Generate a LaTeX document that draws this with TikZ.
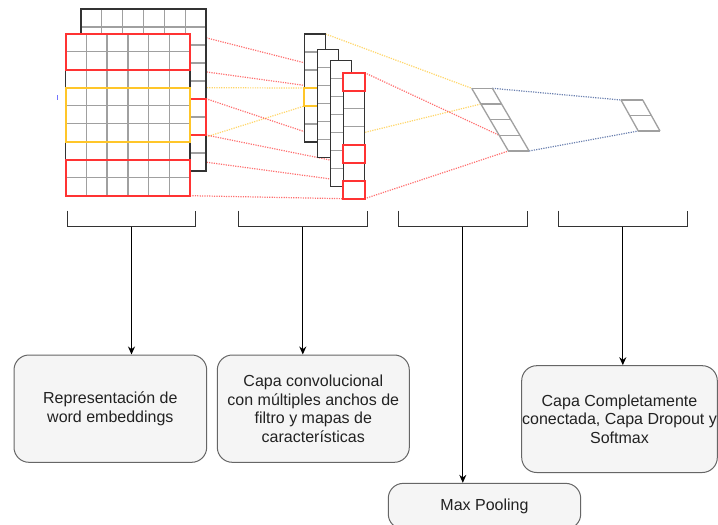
\documentclass[tikz,border=0pt]{standalone}
\usepackage{fontspec}
\setmainfont{Liberation Sans}
\usetikzlibrary{arrows.meta}
\definecolor{cred}{HTML}{FF3333}
\definecolor{cyel}{HTML}{FFC629}
\definecolor{cblue}{HTML}{2B4A8E}
\definecolor{gridg}{HTML}{A0A0A0}
\definecolor{outl}{HTML}{333333}
\definecolor{boxfill}{HTML}{F5F5F5}
\definecolor{boxdraw}{HTML}{666666}
\definecolor{txt}{HTML}{222222}
\newcommand\convcol[3]{%
  \fill[white] (#1,#2) rectangle ({#1+21.3},{#2+#3*18});
  \foreach \j in {1,...,#3} \draw[innerline] (#1,{#2+\j*18}) -- ({#1+21.3},{#2+\j*18});
  \draw[outerline] (#1,#2) rectangle ({#1+21.3},{#2+#3*18});
}
\begin{document}
\begin{tikzpicture}[x=1pt,y=-1pt,
 innerline/.style={gridg, line width=1.3pt},
 outerline/.style={outl, line width=1.3pt},
 hl/.style={line width=1.8pt},
 dotline/.style={line width=1.2pt, dash pattern=on 1.2pt off 1.2pt, opacity=0.7},
 bracketline/.style={outl, line width=1.3pt},
 arr/.style={black, line width=1.2pt, -{Stealth[length=8pt,width=7pt]}},
 box/.style={draw=boxdraw, fill=boxfill, line width=1pt, rounded corners=15pt, align=center, inner sep=0pt, text=txt, font=\fontsize{16}{18.5}\selectfont},
]
\clip (0,0) rectangle (718,525);
\fill[white] (0,0) rectangle (718,525);

% ---- connection points ----
% embedding
\coordinate (eR1t) at (190,33.7);
\coordinate (eR1b) at (190,69.7);
\coordinate (eYt) at (190,87.7);
\coordinate (eYb) at (190,142);
\coordinate (eR2t) at (206,98.7);
\coordinate (eR2b) at (206,135);
\coordinate (eR3t) at (190,160);
\coordinate (eR3b) at (190,195.7);
% conv columns
\coordinate (c1Yt) at (304.3,88);
\coordinate (c1Yb) at (304.3,106);
\coordinate (c1tr) at (325.6,34);
\coordinate (c1br) at (325.6,142);
\coordinate (c4r0t) at (343.3,72.7);
\coordinate (c4r0b) at (343.3,90.7);
\coordinate (c4r4t) at (343.3,144.7);
\coordinate (c4r4b) at (343.3,162.7);
\coordinate (c4r6t) at (343.3,180.7);
\coordinate (c4r6b) at (343.3,198.7);
\coordinate (c4tr) at (364.6,72.7);
\coordinate (c4br) at (364.6,198.7);
% pooling
\coordinate (p0l) at (471.7,88.3);
\coordinate (p0r) at (492.4,88.3);
\coordinate (p1l) at (480.9,104);
\coordinate (p3l) at (499.2,135.3);
\coordinate (p4l) at (508.4,151);
\coordinate (p4r) at (529.1,151);
% fully connected
\coordinate (f0l) at (621,100);
\coordinate (f2l) at (638.3,131);

% ---- dotted connectors (behind) ----
\draw[dotline,cyel] (eYt) -- (c1Yt);
\draw[dotline,cyel] (eYb) -- (c1Yb);
\draw[dotline,cred] (eR1t) -- (c4r0t);
\draw[dotline,cred] (eR1b) -- (c4r0b);
\draw[dotline,cred] (eR2t) -- (c4r4t);
\draw[dotline,cred] (eR2b) -- (c4r4b);
\draw[dotline,cred] (eR3t) -- (c4r6t);
\draw[dotline,cred] (eR3b) -- (c4r6b);
\draw[dotline,cyel] (c1tr) -- (p0l);
\draw[dotline,cyel] (c1br) -- (p1l);
\draw[dotline,cred] (c4tr) -- (p3l);
\draw[dotline,cred] (c4br) -- (p4l);
\draw[dotline,cblue] (p0r) -- (f0l);
\draw[dotline,cblue] (p4r) -- (f2l);

% ---- embedding matrices ----
\fill[white] (81,9) rectangle (206,171);
\foreach \i in {1,...,5} \draw[innerline] ({81+\i*20.833},9) -- ({81+\i*20.833},171);
\foreach \j in {1,...,8} \draw[innerline] (81,{9+\j*18}) -- (206,{9+\j*18});
\draw[outerline] (81,9) rectangle (206,171);

\fill[white] (65.7,33.7) rectangle (190,195.7);
\foreach \i in {1,...,5} \draw[innerline] ({65.7+\i*20.717},33.7) -- ({65.7+\i*20.717},195.7);
\foreach \j in {1,...,8} \draw[innerline] (65.7,{33.7+\j*18}) -- (190,{33.7+\j*18});
\draw[outerline] (65.7,33.7) rectangle (190,195.7);

\draw[hl,cred] (190,98.7) rectangle (206,135);
\draw[hl,cred] (65.7,33.7) rectangle (190,69.7);
\draw[hl,cred] (65.7,160) rectangle (190,195.7);
\draw[hl,cyel] (65.7,87.7) rectangle (190,142);

\draw[blue!55!white, line width=1.3pt] (57.3,95) -- (57.3,100);

% ---- convolution columns ----
\convcol{304.3}{34}{6}
\draw[hl,cyel] (304.3,88) rectangle (325.6,106);
\convcol{317.3}{49.3}{6}
\convcol{330.3}{60.3}{7}
\convcol{343.3}{72.7}{7}
\draw[hl,cred] (343.3,72.7) rectangle (364.6,90.7);
\draw[hl,cred] (343.3,144.7) rectangle (364.6,162.7);
\draw[hl,cred] (343.3,180.7) rectangle (364.6,198.7);

% ---- max pooling cells ----
\foreach \k in {0,...,4}
  \draw[innerline] ({471.7+9.17*\k},{88.3+15.67*\k}) -- ({492.4+9.17*\k},{88.3+15.67*\k});
\draw[innerline] (p0l) -- (p4l);
\draw[innerline] (p0r) -- (p4r);

% ---- fully connected cells ----
\foreach \k in {0,1,2}
  \draw[innerline] ({621+8.65*\k},{100+15.5*\k}) -- ({642.7+8.65*\k},{100+15.5*\k});
\draw[innerline] (621,100) -- (638.3,131);
\draw[innerline] (642.7,100) -- (660,131);

% ---- brackets ----
\foreach \l/\r/\n in {67.3/195.7/1, 238.3/367.3/2, 398.3/527.3/3, 558.3/687.3/4} {
  \draw[bracketline] (\l,210.7) -- (\l,226.5) -- (\r,226.5) -- (\r,210.7);
  \coordinate (br\n) at ({(\l+\r)/2},226.5);
}

% ---- text boxes ----
\node[box, minimum width=192.7pt, minimum height=107.3pt] (box1) at (110.35,408.65)
  {Representación de\\word embeddings};
\node[box, minimum width=192pt, minimum height=107.3pt] (box2) at (313.3,408.65)
  {Capa convolucional\\con múltiples anchos de\\filtro y mapas de\\características};
\node[box, minimum width=192.4pt, minimum height=45.7pt] (box3) at (484.5,506.2)
  {Max Pooling};
\node[box, minimum width=195.6pt, minimum height=106.8pt] (box4) at (619.5,419.1)
  {Capa Completamente\\conectada, Capa Dropout y\\Softmax};

% ---- arrows ----
\draw[arr] (br1) -- (br1 |- box1.north);
\draw[arr] (br2) -- (br2 |- box2.north);
\draw[arr] (br3) -- (br3 |- box3.north);
\draw[arr] (br4) -- (br4 |- box4.north);
\end{tikzpicture}
\end{document}
